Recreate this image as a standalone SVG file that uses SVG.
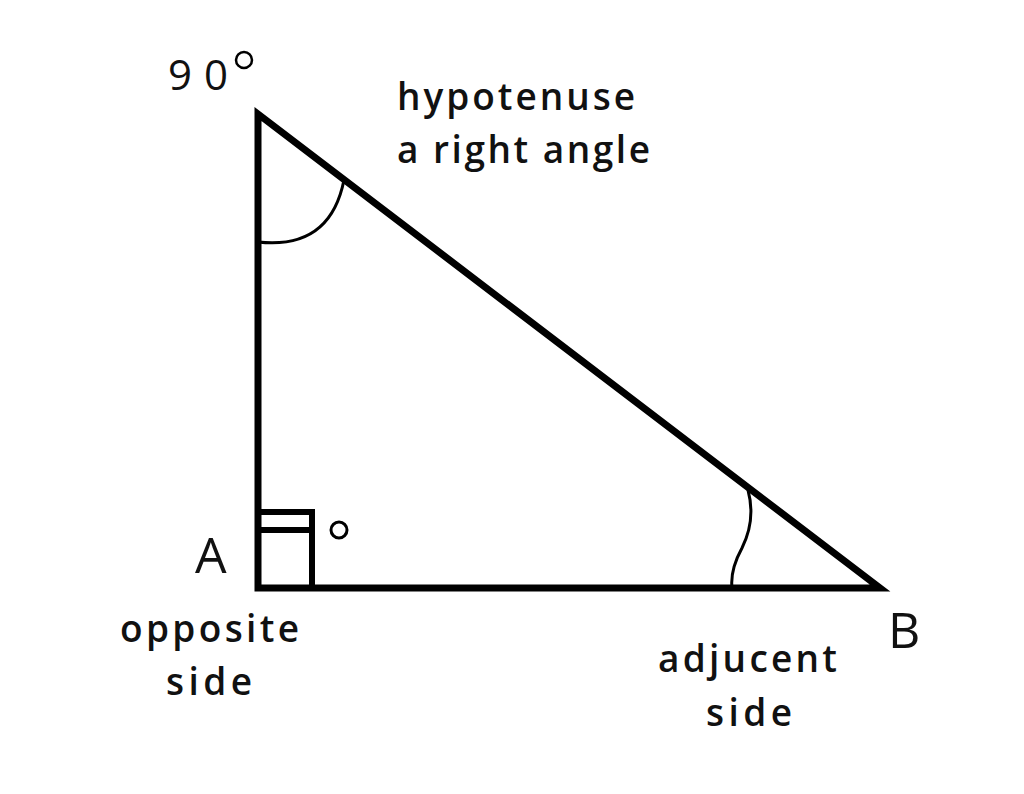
<svg xmlns="http://www.w3.org/2000/svg" width="1024" height="794" viewBox="0 0 1024 794">
<style>
.l{fill:none;stroke:#000;stroke-linejoin:miter}
.t{font-family:"Open Sans","Liberation Sans",sans-serif;font-weight:600;font-size:37px;fill:#111}
</style>
<rect width="1024" height="794" fill="#fff"/>
<path class="l" stroke-width="7" d="M258,114 L258,588 L880,588 Z"/>
<path class="l" stroke-width="6" d="M258,588 V512 H312 V588 M258,530 H312"/>
<circle class="l" stroke-width="3" cx="339" cy="530" r="8"/>
<path class="l" stroke-width="3" d="M258,242 Q330,250 344,180"/>
<path class="l" stroke-width="3" d="M748,490 Q756,520 742,548 Q730,570 732,588"/>
<text class="t" x="168" y="90" style="font-weight:400;font-size:42px" textLength="60">90</text>
<circle class="l" stroke-width="2.5" cx="244" cy="60" r="8"/>
<text class="t" x="397" y="110" textLength="238">hypotenuse</text>
<text class="t" x="397" y="163" textLength="253">a right angle</text>
<text class="t" x="195" y="573" style="font-weight:400;font-size:50px">A</text>
<text class="t" x="888" y="648" style="font-weight:400;font-size:50px">B</text>
<text class="t" x="120" y="642" textLength="179">opposite</text>
<text class="t" x="166" y="695" textLength="86">side</text>
<text class="t" x="658" y="672" textLength="179">adjucent</text>
<text class="t" x="706" y="726" textLength="86">side</text>
</svg>
